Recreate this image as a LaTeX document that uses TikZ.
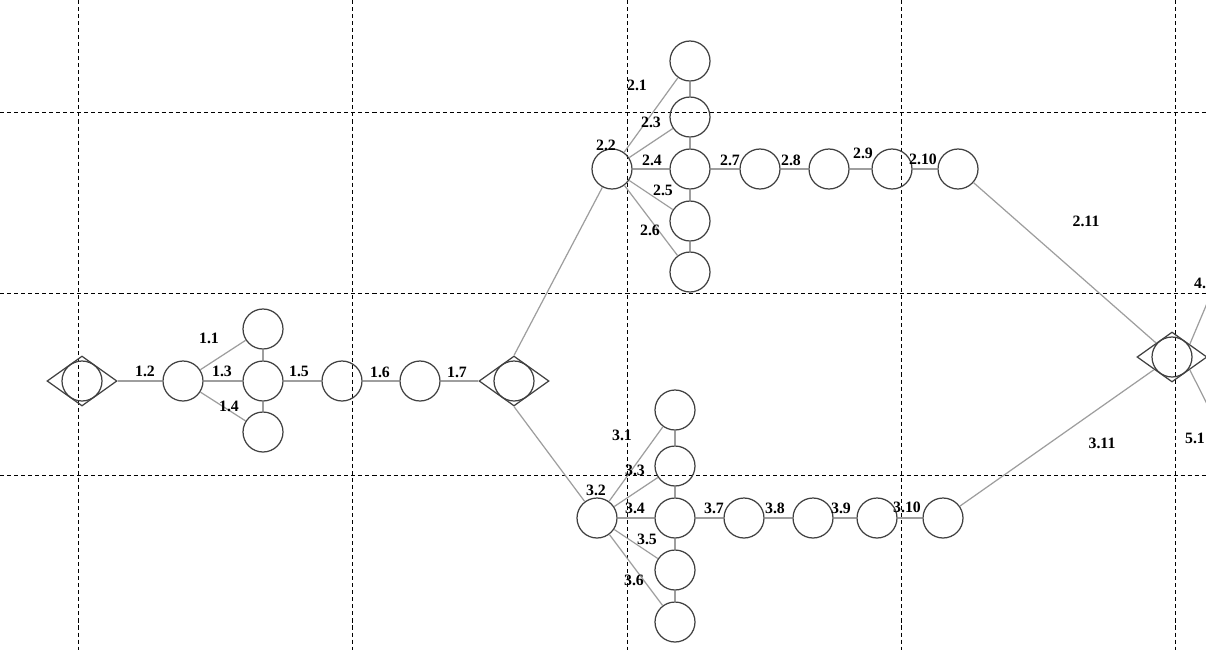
\documentclass[tikz,border=0pt]{standalone}
\usepackage{fontspec}
\setmainfont{Liberation Serif}
\usetikzlibrary{shapes.geometric}

\tikzset{
  place/.style={circle, draw=black!75, line width=0.7pt, minimum size=0.8cm, inner sep=0pt},
  junction/.style={diamond, draw=black!75, line width=0.7pt, minimum width=1.4cm, minimum height=1.0cm, inner sep=0pt},
  link/.style={draw=black!38, line width=0.7pt},
  lbl/.style={font=\fontsize{9}{10}\selectfont\bfseries, inner sep=0pt},
  grid line/.style={black, line width=0.5pt, dash pattern=on 2.3pt off 1.7pt}
}

\begin{document}
\begin{tikzpicture}[x=0.02cm, y=-0.02cm]
	\useasboundingbox (0,0) rectangle (1206,650);
	\clip (0,0) rectangle (1206,650);

	% dashed grid
	\foreach \gx in {78,352,627,901,1175}
		\draw[grid line] (\gx,0) -- (\gx,650);
	\foreach \gy in {112,293,475}
		\draw[grid line] (0,\gy) -- (1206,\gy);

	% junctions
	\foreach \jn/\px/\py in {jA/82/381, jB/514/381, jC/1172/357} {
		\node[junction] (\jn) at (\px,\py) {};
		\node[place] (c\jn) at (\px,\py) {};
	}

	% first branch
	\node[place] (a2) at (183,381) {};
	\node[place] (a1) at (263,329) {};
	\node[place] (a3) at (263,381) {};
	\node[place] (a4) at (263,432) {};
	\node[place] (a5) at (342,381) {};
	\node[place] (a6) at (420,381) {};

	% upper branch
	\node[place] (u2) at (612,169) {};
	\foreach \k/\py in {1/61,3/117,4/169,5/221,6/272}
		\node[place] (u\k) at (690,\py) {};
	\foreach \k/\px in {7/760,8/829,9/892,10/958}
		\node[place] (u\k) at (\px,169) {};

	% lower branch
	\node[place] (l2) at (597,518) {};
	\foreach \k/\py in {1/410,3/466,4/518,5/570,6/622}
		\node[place] (l\k) at (675,\py) {};
	\foreach \k/\px in {7/744,8/813,9/877,10/943}
		\node[place] (l\k) at (\px,518) {};

	% connectors
	\draw[link] (jA.east) -- (a2);
	\draw[link] (a2) -- (a1);
	\draw[link] (a2) -- (a3);
	\draw[link] (a2) -- (a4);
	\draw[link] (a1) -- (a3) -- (a4);
	\draw[link] (a3) -- (a5);
	\draw[link] (a5) -- (a6);
	\draw[link] (a6) -- (jB.west);

	\draw[link] (jB.north) -- (u2);
	\draw[link] (jB.south) -- (l2);
	\foreach \b in {u,l} {
		\foreach \k in {1,3,4,5,6}
			\draw[link] (\b2) -- (\b\k);
		\draw[link] (\b1) -- (\b3) -- (\b4) -- (\b5) -- (\b6);
		\draw[link] (\b4) -- (\b7) -- (\b8) -- (\b9) -- (\b10);
		\draw[link] (\b10) -- (jC);
	}

	\coordinate (out4) at (1216,282);
	\coordinate (out5) at (1216,422);
	\draw[link] (jC.north east) -- (out4);
	\draw[link] (jC.south east) -- (out5);

	% labels
	\foreach \txt/\px/\py [count=\i] in {
		1.1/209/338, 1.2/145/371, 1.3/222/371, 1.4/229/406, 1.5/299/371,
		1.6/380/372, 1.7/457/372,
		2.1/637/85, 2.2/606/145, 2.3/651/122, 2.4/652/160, 2.5/663/190,
		2.6/650/230, 2.7/730/160, 2.8/791/160, 2.9/863/153, 2.10/923/159,
		2.11/1086/221,
		3.1/622/435, 3.2/596/490, 3.3/635/470, 3.4/635/508, 3.5/647/539,
		3.6/634/580, 3.7/714/508, 3.8/775/508, 3.9/841/508, 3.10/907/507,
		3.11/1102/443, 4.1/1204/283, 5.1/1195/438}
		\node[lbl] (lab\i) at (\px,\py) {\txt};
\end{tikzpicture}
\end{document}
